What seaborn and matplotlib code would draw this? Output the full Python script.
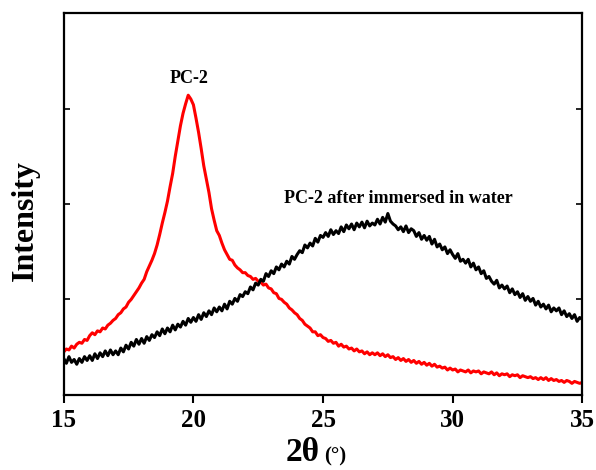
import numpy as np
import pandas as pd
import matplotlib.pyplot as plt
import seaborn as sns

# 2-theta grid, 0.1 degree steps from 15 to 35
two_theta = np.round(np.arange(15.0, 35.05, 0.1), 1)

# PC-2 (red)
pc2 = [
    45, 48, 47, 51, 49, 53, 55, 54, 58, 57,
    62, 65, 63, 67, 66, 70, 69, 73, 75, 78,
    80, 84, 86, 90, 92, 97, 100, 104, 108, 112,
    117, 121, 129, 135, 141, 148, 157, 168, 180, 191,
    203, 218, 232, 250, 266, 282, 295, 305, 314, 310,
    304, 290, 275, 258, 240, 226, 212, 195, 183, 172,
    167, 159, 152, 147, 142, 141, 136, 133, 131, 128,
    128, 125, 124, 121, 122, 119, 118, 115, 116, 112,
    111, 107, 106, 101, 100, 97, 95, 91, 89, 86,
    84, 80, 78, 74, 72, 70, 66, 66, 62, 63,
    60, 59, 56, 57, 54, 55, 51, 53, 50, 51,
    48, 49, 46, 48, 45, 46, 43, 45, 42, 44,
    42, 44, 41, 43, 40, 42, 39, 40, 37, 39,
    36, 38, 35, 37, 34, 36, 33, 35, 32, 34,
    31, 33, 30, 32, 29, 30, 28, 29, 26, 28,
    26, 27, 24, 26, 25, 24, 26, 23, 25, 24,
    25, 22, 24, 23, 22, 24, 21, 23, 20, 22,
    21, 22, 19, 21, 20, 21, 18, 20, 19, 18,
    19, 17, 18, 16, 18, 16, 18, 15, 17, 15,
    16, 14, 15, 13, 15, 14, 12, 14, 13, 12,
    13,
]

# PC-2 after immersed in water (black)
pc2_water = [
    38, 33, 40, 34, 37, 32, 38, 34, 40, 36,
    41, 36, 43, 38, 44, 40, 46, 41, 47, 42,
    46, 42, 49, 45, 52, 48, 55, 51, 58, 53,
    59, 54, 61, 57, 63, 60, 66, 62, 69, 64,
    70, 66, 73, 68, 74, 71, 77, 73, 80, 76,
    81, 77, 84, 79, 86, 82, 88, 84, 91, 87,
    92, 88, 95, 90, 98, 95, 101, 98, 105, 103,
    108, 106, 113, 110, 117, 115, 121, 119, 127, 124,
    130, 127, 134, 131, 137, 134, 140, 137, 145, 142,
    147, 151, 149, 157, 154, 159, 156, 164, 160, 167,
    165, 170, 166, 173, 168, 172, 169, 176, 171, 178,
    174, 179, 173, 180, 176, 181, 175, 182, 177, 180,
    178, 184, 179, 186, 181, 190, 182, 179, 177, 173,
    176, 171, 177, 170, 174, 172, 166, 170, 163, 167,
    162, 166, 158, 163, 155, 158, 152, 155, 148, 152,
    147, 143, 148, 140, 142, 138, 142, 134, 138, 131,
    134, 127, 130, 122, 124, 119, 116, 120, 112, 115,
    111, 114, 107, 111, 105, 108, 102, 106, 99, 103,
    98, 101, 94, 98, 92, 95, 90, 94, 87, 91,
    88, 91, 84, 88, 82, 85, 80, 84, 77, 81,
    79,
]

x_ticks = [15, 20, 25, 30, 35]

sns.set_style("ticks")
plt.rcParams['font.family'] = ['Liberation Serif', 'DejaVu Serif']
plt.rcParams['font.weight'] = 'bold'
plt.rcParams['text.color'] = 'black'
plt.rcParams['axes.labelcolor'] = 'black'
plt.rcParams['axes.edgecolor'] = 'black'
plt.rcParams['xtick.color'] = 'black'
plt.rcParams['ytick.color'] = 'black'

df = pd.DataFrame({"two_theta": two_theta, "PC-2": pc2, "water": pc2_water})

fig = plt.figure(figsize=(5.96, 4.70), dpi=100)
ax = fig.add_axes([0.107, 0.160, 0.870, 0.812])

sns.lineplot(data=df, x="two_theta", y="PC-2", color="#ff0000", linewidth=2.2, ax=ax)
sns.lineplot(data=df, x="two_theta", y="water", color="black", linewidth=2.2, ax=ax)

ax.set_xlim(15, 35)
ax.set_ylim(0, 400)
ax.set_xticks(x_ticks)
ax.set_yticks([0, 100, 200, 300, 400])
ax.set_yticklabels([])
ax.tick_params(axis="x", direction="out", length=6, width=1.5, labelsize=18, pad=4)
ax.tick_params(axis="y", direction="in", length=4, width=1.2, right=True)
for lbl in ax.get_xticklabels():
    lbl.set_fontweight("bold")
for s in ax.spines.values():
    s.set_linewidth(1.6)
    s.set_visible(True)

ax.set_ylabel("Intensity", fontsize=23, fontweight="bold")
ax.yaxis.set_label_coords(-0.046, 0.458)
ax.set_xlabel("2θ", fontsize=24, fontweight="bold")
ax.xaxis.set_label_coords(0.46, -0.11)
fig.text(0.562, 0.028, "(°)", fontsize=15, fontweight="bold", ha="center", va="center")

ax.text(19.85, 332, "PC-2", fontsize=13, fontweight="bold", ha="center", va="center")
ax.text(27.9, 206, "PC-2 after immersed in water", fontsize=13, fontweight="bold",
        ha="center", va="center")

plt.savefig("out.png", dpi=100)
